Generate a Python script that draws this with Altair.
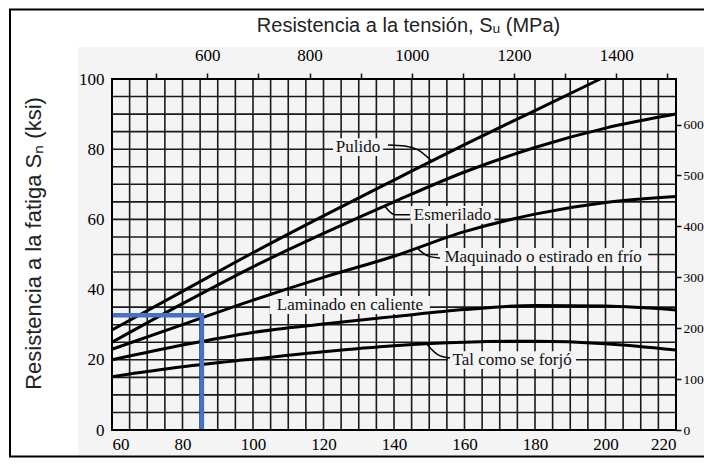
import altair as alt
import pandas as pd

# ---------------- data (ksi) ----------------
su_ksi = [60, 80, 100, 120, 140, 160, 180, 200, 220]
pulido_su = [60, 80, 100, 120, 140, 160, 180, 198.5]
pulido = [28.5, 39.5, 50.5, 61.0, 71.2, 81.3, 91.0, 100.0]
esmerilado = [25.0, 36.0, 46.5, 56.0, 65.0, 73.5, 80.5, 86.0, 90.0]
maquinado = [23.0, 30.0, 37.0, 43.5, 49.5, 56.5, 61.5, 64.8, 66.5]
laminado = [20.0, 24.2, 27.8, 30.2, 32.3, 34.3, 35.5, 35.3, 34.2]
forjado = [15.2, 18.0, 20.2, 22.3, 24.0, 25.0, 25.3, 24.6, 22.8]

blue_su = [60, 85.5, 85.5]
blue_sn = [32.7, 32.7, 0]

x_labels_ksi = [60, 80, 100, 120, 140, 160, 180, 200, 220]
y_labels_ksi = [0, 20, 40, 60, 80, 100]
mpa_top = [500, 600, 700, 800, 900, 1000, 1100, 1200, 1300, 1400, 1500]
mpa_right = [0, 100, 200, 300, 400, 500, 600]
grid_x = list(range(60, 221, 5))
grid_y = list(range(0, 101, 5))

labels = ["Pulido", "Esmerilado", "Maquinado o estirado en frío",
          "Laminado en caliente", "Tal como se forjó"]
label_x = [129.8, 156.6, 182.3, 127.5, 173.5]
label_y = [80.6, 61.3, 49.3, 35.6, 19.9]
label_w = [14.2, 23.8, 59.6, 45.4, 36.3]
label_h = 5.1

leader_names = ["Pulido"] * 4 + ["Esmerilado"] * 3 + ["Maquinado"] * 3 + ["Forjado"] * 3
leader_x = [138.3, 143.1, 146.8, 150.5, 144.5, 140.3, 137.5, 153.0, 149.6, 146.8, 155.9, 152.5, 149.5]
leader_y = [81.2, 80.9, 79.8, 76.8, 61.3, 61.3, 63.6, 49.0, 49.6, 51.6, 20.5, 21.4, 24.2]
leader_o = [0, 1, 2, 3, 0, 1, 2, 0, 1, 2, 0, 1, 2]

MPA_PER_KSI = 6.894757

# ---------------- tables ----------------
rows = []
for s, v in zip(pulido_su, pulido):
    rows.append({"serie": "Pulido", "su": s, "sn": v})
for name, vals in [("Esmerilado", esmerilado), ("Maquinado", maquinado),
                   ("Laminado", laminado), ("Forjado", forjado)]:
    for s, v in zip(su_ksi, vals):
        rows.append({"serie": name, "su": s, "sn": v})
curves_df = pd.DataFrame(rows)

blue_df = pd.DataFrame({"su": blue_su, "sn": blue_sn, "o": [0, 1, 2]})
lab_df = pd.DataFrame({"t": labels, "x": label_x, "y": label_y, "w": label_w})
lab_df["x1"] = lab_df["x"] - lab_df["w"] / 2
lab_df["x2"] = lab_df["x"] + lab_df["w"] / 2
lab_df["y1"] = lab_df["y"] - label_h / 2
lab_df["y2"] = lab_df["y"] + label_h / 2
lead_df = pd.DataFrame({"n": leader_names, "x": leader_x, "y": leader_y, "o": leader_o})

W, H = 564, 351
xs = alt.Scale(domain=[60, 220], nice=False, zero=False)
ys = alt.Scale(domain=[0, 100], nice=False, zero=False)

BG = "#f4f4f4"
SERIF = "Liberation Serif"
SANS = "Liberation Sans"

one = pd.DataFrame({"k": [0]})

bg = alt.Chart(one).mark_rect(fill=BG).encode(
    x=alt.value(-34), x2=alt.value(620), y=alt.value(-32), y2=alt.value(376))

outer = alt.Chart(one).mark_rect(fillOpacity=0, stroke="#000", strokeWidth=2).encode(
    x=alt.value(-102), x2=alt.value(640), y=alt.value(-69.5), y2=alt.value(377.5))

gridx = alt.Chart(pd.DataFrame({"su": grid_x})).mark_rule(color="#1a1a1a", strokeWidth=1.6).encode(
    x=alt.X("su:Q", scale=xs, axis=alt.Axis(
        orient="bottom", values=x_labels_ksi, title=None, domain=False, ticks=False,
        tickSize=0, grid=False, labelFont=SERIF, labelFontSize=17, labelColor="#000",
        labelPadding=6, zindex=1)))

gridy = alt.Chart(pd.DataFrame({"sn": grid_y})).mark_rule(color="#1a1a1a", strokeWidth=1.6).encode(
    y=alt.Y("sn:Q", scale=ys, axis=alt.Axis(
        orient="left", values=y_labels_ksi, domain=False, ticks=False, tickSize=0,
        grid=False, labelFont=SERIF, labelFontSize=17, labelColor="#000", labelPadding=8,
        title="Resistencia a la fatiga Sₙ (ksi)", titleFont=SANS, titleFontSize=22,
        titleFontWeight="normal", titleColor="#222", titleAngle=-90, titleX=-79,
        titleY=164, titleAlign="center", titleBaseline="middle", zindex=1)))

boxes = alt.Chart(lab_df).mark_rect(fill=BG).encode(
    x=alt.X("x1:Q", scale=xs, axis=None), x2="x2:Q",
    y=alt.Y("y1:Q", scale=ys, axis=None), y2="y2:Q")

top_axis = alt.Axis(
    orient="top", values=[m / MPA_PER_KSI for m in mpa_top], domain=False,
    ticks=True, tickSize=6, tickColor="#111", tickWidth=1.5, grid=False,
    labelExpr="(round(datum.value*6.894757) % 200 == 0 && round(datum.value*6.894757) <= 1400) ? round(datum.value*6.894757) : ''",
    labelFont=SERIF, labelFontSize=17, labelColor="#000", labelPadding=9,
    title="Resistencia a la tensión, Sᵤ (MPa)", titleFont=SANS, titleFontSize=20,
    titleFontWeight="normal", titleColor="#222", titleX=296, titleY=-54,
    titleAlign="center", titleBaseline="middle", zindex=1)
right_axis = alt.Axis(
    orient="right", values=[m / MPA_PER_KSI for m in mpa_right], domain=False,
    ticks=True, tickSize=5, tickColor="#111", tickWidth=1.5, grid=False,
    labelExpr="round(datum.value*6.894757)", labelFont=SERIF, labelFontSize=13.5,
    labelColor="#000", labelPadding=2, title=None, zindex=1)

curves = alt.Chart(curves_df).mark_line(color="#000", strokeWidth=3, interpolate="monotone").encode(
    x=alt.X("su:Q", scale=xs, axis=top_axis),
    y=alt.Y("sn:Q", scale=ys, axis=right_axis),
    detail="serie:N")

blue = alt.Chart(blue_df).mark_line(color="#4472C4", strokeWidth=4.5, strokeCap="butt",
                                    strokeJoin="miter").encode(
    x=alt.X("su:Q", scale=xs, axis=None), y=alt.Y("sn:Q", scale=ys, axis=None), order="o:Q")

leaders = alt.Chart(lead_df).mark_line(color="#000", strokeWidth=1.5, interpolate="monotone").encode(
    x=alt.X("x:Q", scale=xs, axis=None), y=alt.Y("y:Q", scale=ys, axis=None),
    detail="n:N", order="o:Q")

texts = alt.Chart(lab_df).mark_text(font=SERIF, fontSize=17, color="#111", baseline="middle").encode(
    x=alt.X("x:Q", scale=xs, axis=None), y=alt.Y("y:Q", scale=ys, axis=None), text="t:N")

plotframe = alt.Chart(one).mark_rect(fillOpacity=0, stroke="#000", strokeWidth=2).encode(
    x=alt.value(0), x2=alt.value(W), y=alt.value(0), y2=alt.value(H))

chart = alt.layer(bg, outer, gridx, gridy, boxes, curves, blue, leaders, texts, plotframe).resolve_axis(
    x="independent", y="independent"
).properties(
    width=W, height=H,
    padding={"left": 104, "top": 71, "right": 28, "bottom": 28},
    autosize=alt.AutoSizeParams(type="none"),
    background="white",
).configure_view(stroke=None)

chart.save("out.html", embed_options={"renderer": "svg", "actions": False})
